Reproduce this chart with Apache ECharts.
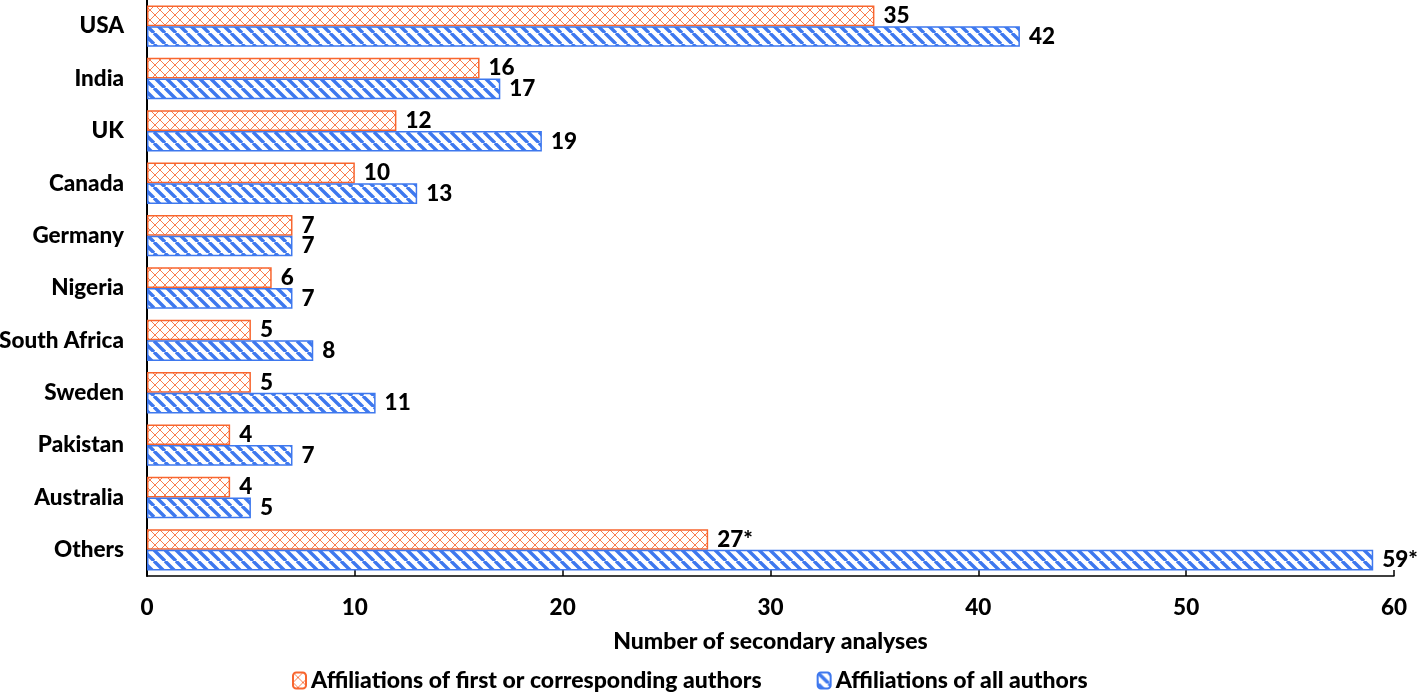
<!DOCTYPE html>
<html><head><meta charset="utf-8">
<script src="https://cdn.jsdelivr.net/npm/echarts@6/dist/echarts.min.js"></script>
<style>html,body{margin:0;padding:0;background:#fff}#c{width:1418px;height:692px}</style>
</head><body><div id="c"></div>
<script>
const categories = ['USA','India','UK','Canada','Germany','Nigeria','South Africa','Sweden','Pakistan','Australia','Others'];
const firstAuthors = [35,16,12,10,7,6,5,5,4,4,27];
const allAuthors = [42,17,19,13,7,7,8,11,7,5,59];
const firstLabels = ['35','16','12','10','7','6','5','5','4','4','27*'];
const allLabels = ['42','17','19','13','7','7','8','11','7','5','59*'];
const seriesNames = ['Affiliations of first or corresponding authors','Affiliations of all authors'];
const xTicks = {min:0,max:60,interval:10};

const ORANGE = '#F8662F';
const BLUE = '#3E78EE';
const FONT = 'Lato';
const FW = 900;
const FS = 22.5;
const FS2 = 23;

function crossPattern(){
  const s = 10, c = document.createElement('canvas');
  c.width = s; c.height = s;
  const g = c.getContext('2d');
  g.fillStyle = '#fff'; g.fillRect(0,0,s,s);
  g.strokeStyle = ORANGE; g.lineWidth = 1; g.globalAlpha = 0.85;
  g.beginPath();
  for (let k=-1;k<=1;k++){
    g.moveTo(k*s,0); g.lineTo(k*s+s,s);
    g.moveTo(k*s+s,0); g.lineTo(k*s,s);
  }
  g.stroke();
  return c;
}
function stripePattern(){
  const s = 11, c = document.createElement('canvas');
  c.width = s; c.height = s;
  const g = c.getContext('2d');
  g.fillStyle = '#fff'; g.fillRect(0,0,s,s);
  g.strokeStyle = BLUE; g.lineWidth = 3.4;
  g.beginPath();
  for (let k=-1;k<=1;k++){
    g.moveTo(k*s,0); g.lineTo(k*s+s,s);
  }
  g.stroke();
  return c;
}
const crossFill = {image: crossPattern(), repeat:'repeat'};
const stripeFill = {image: stripePattern(), repeat:'repeat'};

const chart = echarts.init(document.getElementById('c'), null, {renderer:'canvas'});
const labelStyle = {show:true, position:'right', distance:9, color:'#000', fontFamily:FONT, fontWeight:FW, fontSize:FS};
chart.setOption({
  animation:false,
  textStyle:{fontFamily:FONT},
  grid:{left:147,right:24,top:0,bottom:116,containLabel:false,outerBoundsMode:'none'},
  xAxis:{type:'value', min:xTicks.min, max:xTicks.max, interval:xTicks.interval,
    name:'Number of secondary analyses', nameLocation:'middle', nameGap:54,
    nameTextStyle:{color:'#000',fontFamily:FONT,fontWeight:FW,fontSize:FS2},
    axisLine:{show:true,lineStyle:{color:'#000',width:1.5}},
    axisTick:{show:true,inside:true,length:6,lineStyle:{color:'#000',width:1.5}},
    axisLabel:{color:'#000',fontFamily:FONT,fontWeight:FW,fontSize:FS,margin:20},
    splitLine:{show:false}},
  yAxis:{type:'category', data:categories, inverse:true,
    axisLine:{show:true,lineStyle:{color:'#000',width:2}},
    axisTick:{show:false},
    axisLabel:{color:'#000',fontFamily:FONT,fontWeight:FW,fontSize:FS,margin:23}},
  legend:{top:664,left:287,itemGap:55,itemWidth:13,itemHeight:16,
    textStyle:{color:'#000',fontFamily:FONT,fontWeight:FW,fontSize:FS2},
    data:seriesNames},
  series:[
    {name:seriesNames[0], type:'bar', data:firstAuthors, barGap:'0%', barCategoryGap:'21%',
     itemStyle:{color:crossFill, borderColor:ORANGE, borderWidth:1.5},
     label:Object.assign({formatter:p=>firstLabels[p.dataIndex]}, labelStyle)},
    {name:seriesNames[1], type:'bar', data:allAuthors, barGap:'0%', barCategoryGap:'21%',
     itemStyle:{color:stripeFill, borderColor:BLUE, borderWidth:1.5},
     label:Object.assign({formatter:p=>allLabels[p.dataIndex]}, labelStyle)}
  ]
});
</script></body></html>
